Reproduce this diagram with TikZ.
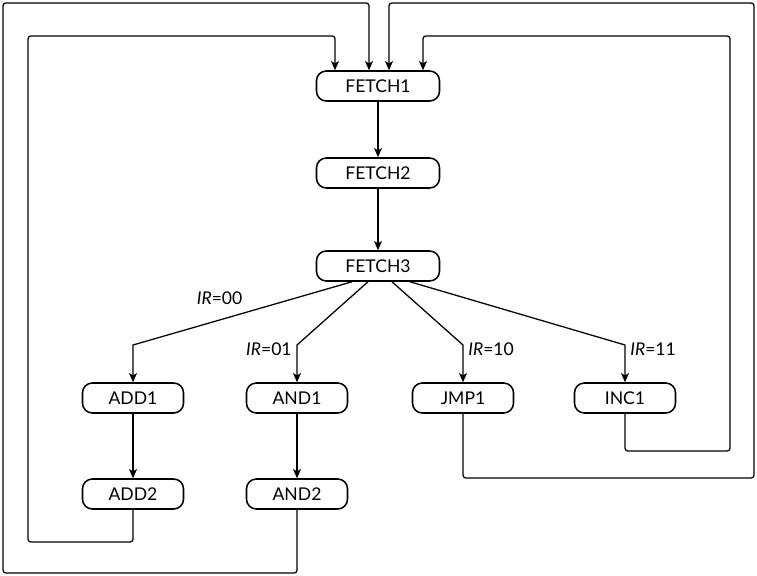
\documentclass[tikz,border=0pt]{standalone}
\usepackage{fontspec}
\setmainfont{Lato}
\usetikzlibrary{arrows.meta}
\begin{document}
\begin{tikzpicture}[x=0.025cm, y=-0.025cm, >={Stealth[length=2.3mm, width=2mm, inset=0.6mm]}, line width=0.9pt, line join=round,
		font=\fontsize{12.5}{15}\selectfont,
		state/.style={draw, line width=1.1pt, rounded corners=7pt, minimum height=0.75cm, inner sep=0pt},
		widestate/.style={state, minimum width=3.075cm},
		narrowstate/.style={state, minimum width=2.525cm},
		back/.style={->, rounded corners=2pt}]
	\def\u{0.025cm} \def\bend{345} % bend of the decode branches
	\useasboundingbox (0,0) rectangle (757,576);
	% fetch
	\node[widestate] (FETCH1) at (378,86) {FETCH1};
	\node[widestate] (FETCH2) at (378,173) {FETCH2};
	\node[widestate] (FETCH3) at (378,266) {FETCH3};
	% execute
	\node[narrowstate] (ADD1) at (133,398) {ADD1};
	\node[narrowstate] (AND1) at (297,398) {AND1};
	\node[narrowstate] (JMP1) at (463,398) {JMP1};
	\node[narrowstate] (INC1) at (625,398) {INC1};
	\node[narrowstate] (ADD2) at (133,494) {ADD2};
	\node[narrowstate] (AND2) at (297,494) {AND2};
	\draw[->] (FETCH1) -- (FETCH2);
	\draw[->] (FETCH2) -- (FETCH3);
	\draw[->] (ADD1) -- (ADD2);
	\draw[->] (AND1) -- (AND2);
	% decode
	\draw[->] ([xshift=-26*\u]FETCH3.south) -- (133,\bend) node[pos=.47, above left=1pt] (ir00) {\textit{IR}=00} -- (ADD1);
	\draw[->] ([xshift=-10*\u]FETCH3.south) -- (297,\bend) node[left, yshift=-4*\u] (ir01) {\textit{IR}=01} -- (AND1);
	\draw[->] ([xshift=14*\u]FETCH3.south) -- (463,\bend) node[right, yshift=-4*\u] (ir10) {\textit{IR}=10} -- (JMP1);
	\draw[->] ([xshift=32*\u]FETCH3.south) -- (625,\bend) node[right, yshift=-4*\u] (ir11) {\textit{IR}=11} -- (INC1);
	% back to fetch
	\draw[back] (ADD2) |- (28,542) |- (335,36) -- (335,36 |- FETCH1.north);
	\draw[back] (AND2) |- (3,573) |- (369,3) -- (369,3 |- FETCH1.north);
	\draw[back] (JMP1) |- (754,478) |- (389,3) -- (389,3 |- FETCH1.north);
	\draw[back] (INC1) |- (730,451) |- (423,36) -- (423,36 |- FETCH1.north);
\end{tikzpicture}
\end{document}
